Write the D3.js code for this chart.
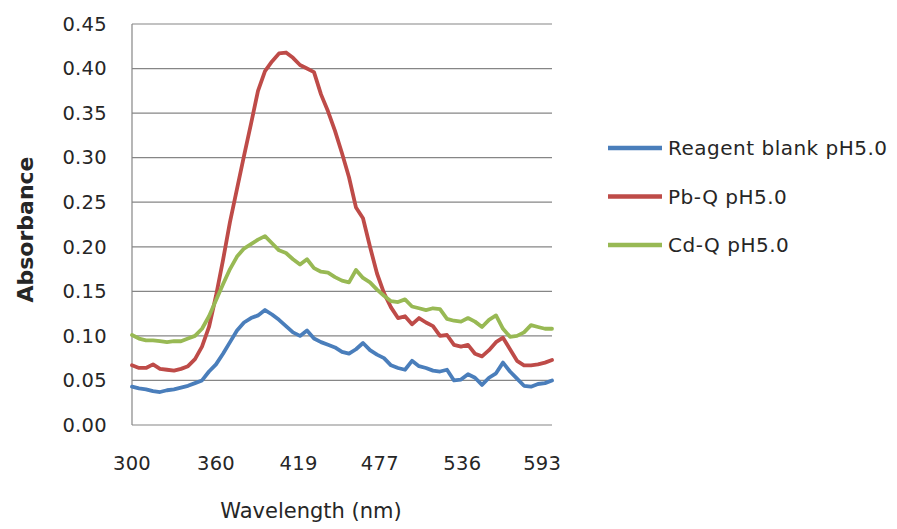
<!DOCTYPE html>
<html>
<head>
<meta charset="utf-8">
<script src="https://cdn.jsdelivr.net/npm/d3@7"></script>
<style>
  body { margin: 0; background: #fff; }
  text { font-family: "DejaVu Sans", sans-serif; fill: #262626; }
</style>
</head>
<body>
<svg id="chart" width="897" height="529"></svg>
<script>
// wavelengths (nm)
const wavelength = [300, 305, 310, 315, 320, 325, 330, 335, 340, 345, 350, 355, 360, 365, 370, 375, 380, 385, 390, 395,
  400, 405, 410, 415, 420, 425, 430, 435, 440, 445, 450, 455, 460, 465, 470, 475, 480, 485, 490, 495,
  500, 505, 510, 515, 520, 525, 530, 535, 540, 545, 550, 555, 560, 565, 570, 575, 580, 585, 590, 595, 600];

const blank = [0.043, 0.041, 0.040, 0.038, 0.037, 0.039, 0.040, 0.042, 0.044, 0.047, 0.050, 0.060, 0.068, 0.080, 0.093, 0.106, 0.115, 0.120, 0.123, 0.129,
  0.124, 0.118, 0.111, 0.104, 0.100, 0.106, 0.097, 0.093, 0.090, 0.087, 0.082, 0.080, 0.085, 0.092, 0.084, 0.079, 0.075, 0.067, 0.064, 0.062,
  0.072, 0.066, 0.064, 0.061, 0.060, 0.062, 0.050, 0.051, 0.057, 0.053, 0.045, 0.053, 0.058, 0.070, 0.060, 0.052, 0.044, 0.043, 0.046, 0.047, 0.050];

const pbQ = [0.067, 0.064, 0.064, 0.068, 0.063, 0.062, 0.061, 0.063, 0.066, 0.074, 0.088, 0.110, 0.145, 0.185, 0.228, 0.265, 0.302, 0.338, 0.375, 0.397,
  0.408, 0.417, 0.418, 0.412, 0.404, 0.400, 0.396, 0.371, 0.352, 0.330, 0.305, 0.278, 0.244, 0.232, 0.200, 0.170, 0.148, 0.132, 0.120, 0.122,
  0.113, 0.120, 0.115, 0.111, 0.100, 0.101, 0.090, 0.088, 0.090, 0.080, 0.077, 0.084, 0.093, 0.098, 0.085, 0.072, 0.067, 0.067, 0.068, 0.070, 0.073];

const cdQ = [0.101, 0.097, 0.095, 0.095, 0.094, 0.093, 0.094, 0.094, 0.097, 0.100, 0.108, 0.122, 0.140, 0.158, 0.175, 0.189, 0.198, 0.203, 0.208, 0.212,
  0.204, 0.196, 0.193, 0.186, 0.180, 0.186, 0.176, 0.172, 0.171, 0.166, 0.162, 0.160, 0.174, 0.165, 0.160, 0.152, 0.145, 0.139, 0.138, 0.141,
  0.133, 0.131, 0.129, 0.131, 0.130, 0.119, 0.117, 0.116, 0.120, 0.116, 0.110, 0.118, 0.123, 0.108, 0.099, 0.100, 0.104, 0.112, 0.110, 0.108, 0.108];

const xTicks = [300, 360, 419, 477, 536, 593];
const yTicks = [0, 0.05, 0.10, 0.15, 0.20, 0.25, 0.30, 0.35, 0.40, 0.45];

const seriesNames = ["Reagent blank pH5.0", "Pb-Q pH5.0", "Cd-Q pH5.0"];
const seriesColors = ["#4a7ebb", "#be4b48", "#98b954"];
const seriesValues = [blank, pbQ, cdQ];

const svg = d3.select("#chart");
const margin = { left: 132, right: 345, top: 24, bottom: 104 };
const width = 897 - margin.left - margin.right,
      height = 529 - margin.top - margin.bottom;

const g = svg.append("g").attr("transform", `translate(${margin.left},${margin.top})`);

const x = d3.scaleLinear().domain([300, 600]).range([0, width]);
const y = d3.scaleLinear().domain([0, 0.45]).range([height, 0]);

// gridlines
g.append("g")
    .selectAll("line")
    .data(yTicks)
    .join("line")
    .attr("x1", 0)
    .attr("x2", width)
    .attr("y1", d => y(d))
    .attr("y2", d => y(d))
    .attr("stroke", "#868686")
    .attr("stroke-width", 1.2);

// left axis line
g.append("line")
    .attr("x1", 0).attr("x2", 0)
    .attr("y1", 0).attr("y2", height)
    .attr("stroke", "#868686")
    .attr("stroke-width", 1.2);

// y tick labels
g.append("g")
    .selectAll("text")
    .data(yTicks)
    .join("text")
    .attr("x", -25)
    .attr("y", d => y(d))
    .attr("dy", "0.35em")
    .attr("text-anchor", "end")
    .style("font-size", "19.5px")
    .style("letter-spacing", "0.3px")
    .text(d3.format(".2f"));

// x tick labels
g.append("g")
    .selectAll("text")
    .data(xTicks)
    .join("text")
    .attr("x", d => x(d))
    .attr("y", height + 38)
    .attr("dy", "0.35em")
    .attr("text-anchor", "middle")
    .style("font-size", "19.5px")
    .style("letter-spacing", "0.3px")
    .text(d => d);

// axis titles
svg.append("text")
    .attr("transform", `translate(33,${margin.top + height / 2 + 5}) rotate(-90)`)
    .attr("text-anchor", "middle")
    .style("font-size", "22px")
    .style("font-weight", "bold")
    .text("Absorbance");

svg.append("text")
    .attr("x", 311)
    .attr("y", 511)
    .attr("dy", "0.35em")
    .attr("text-anchor", "middle")
    .style("font-size", "21px")
    .text("Wavelength (nm)");

// series lines
const line = d3.line()
    .x((d, i) => x(wavelength[i]))
    .y(d => y(d));

g.append("g")
    .selectAll("path")
    .data(seriesValues)
    .join("path")
    .attr("fill", "none")
    .attr("stroke", (d, i) => seriesColors[i])
    .attr("stroke-width", 3.8)
    .attr("stroke-linejoin", "round")
    .attr("stroke-linecap", "round")
    .attr("d", line);

// legend
const legend = svg.append("g")
    .selectAll("g")
    .data(seriesNames)
    .join("g")
    .attr("transform", (d, i) => `translate(608,${148 + i * 48.5})`);

legend.append("line")
    .attr("x1", 0).attr("x2", 54)
    .attr("stroke", (d, i) => seriesColors[i])
    .attr("stroke-width", 4.5);

legend.append("text")
    .attr("x", 60)
    .attr("dy", "0.35em")
    .style("font-size", "20px")
    .style("letter-spacing", "0.5px")
    .text(d => d);
</script>
</body>
</html>
